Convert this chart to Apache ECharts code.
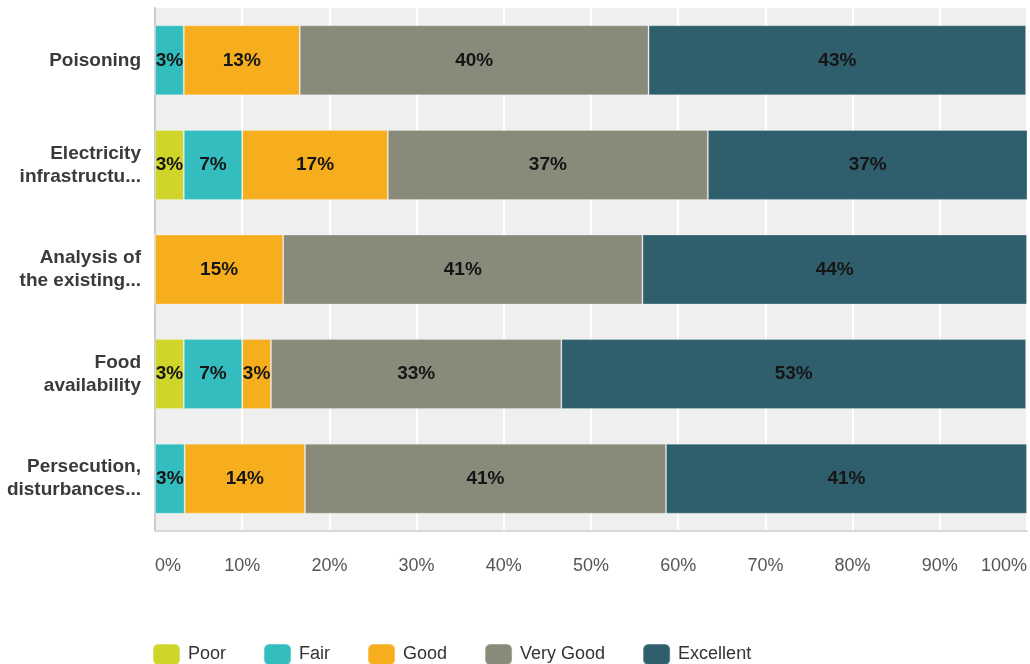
<!DOCTYPE html>
<html>
<head>
<meta charset="utf-8">
<script src="https://cdn.jsdelivr.net/npm/echarts@6/dist/echarts.min.js"></script>
<style>
  html, body { margin: 0; padding: 0; background: #fff; }
  #chart { width: 1030px; height: 664px; }
</style>
</head>
<body>
<div id="chart"></div>
<script>
// categories, top to bottom
const categories = [
  'Poisoning',
  'Electricity\ninfrastructu...',
  'Analysis of\nthe existing...',
  'Food\navailability',
  'Persecution,\ndisturbances...'
]
const seriesNames = ['Poor', 'Fair', 'Good', 'Very Good', 'Excellent']
const colors = ['#cfd52b', '#34bdbf', '#f6ae1f', '#898a79', '#2f5f6d']

// percentages per rating
const poor = [0, 3.3, 0, 3.3, 0]
const fair = [3.3, 6.7, 0, 6.7, 3.4]
const good = [13.3, 16.7, 14.7, 3.3, 13.8]
const veryGood = [40.0, 36.7, 41.2, 33.3, 41.4]
const excellent = [43.3, 36.7, 44.1, 53.3, 41.4]
const values = [poor, fair, good, veryGood, excellent]

const chart = echarts.init(document.getElementById('chart'))

chart.setOption({
  animation: false,
  textStyle: { fontFamily: 'Liberation Sans, Arial, sans-serif' },
  grid: {
    left: 155,
    right: 3,
    top: 8,
    bottom: 133,
    show: true,
    backgroundColor: '#efefef',
    borderWidth: 0
  },
  legend: {
    top: 638,
    left: 147,
    itemWidth: 27,
    itemHeight: 21,
    itemGap: 37,
    icon: 'roundRect',
    textStyle: { fontSize: 18, color: '#333', padding: [0, 0, 0, 3] },
    data: seriesNames
  },
  xAxis: {
    type: 'value',
    min: 0,
    max: 100,
    interval: 10,
    axisLine: { show: true, lineStyle: { color: '#d8d8d8', width: 2 } },
    axisTick: { show: false },
    splitLine: { show: true, lineStyle: { color: '#ffffff', width: 2 } },
    axisLabel: {
      formatter: '{value}%',
      fontSize: 18,
      color: '#555',
      margin: 26,
      alignMinLabel: 'left',
      alignMaxLabel: 'right'
    }
  },
  yAxis: {
    type: 'category',
    inverse: true,
    data: categories,
    axisLine: { show: true, lineStyle: { color: '#cccccc', width: 2 } },
    axisTick: { show: false },
    axisLabel: {
      fontSize: 19,
      fontWeight: 'bold',
      color: '#3a3a3a',
      lineHeight: 23,
      margin: 14
    }
  },
  series: seriesNames.map((name, i) => ({
    name: name,
    type: 'bar',
    stack: 'total',
    barWidth: 70,
    data: values[i],
    itemStyle: {
      color: colors[i],
      borderColor: 'rgba(255,255,255,0.25)',
      borderWidth: 1
    },
    label: {
      show: true,
      position: 'inside',
      fontSize: 19,
      fontWeight: 'bold',
      color: '#151515',
      formatter: p => (p.value > 0 ? Math.round(p.value) + '%' : '')
    }
  }))
})
</script>
</body>
</html>
